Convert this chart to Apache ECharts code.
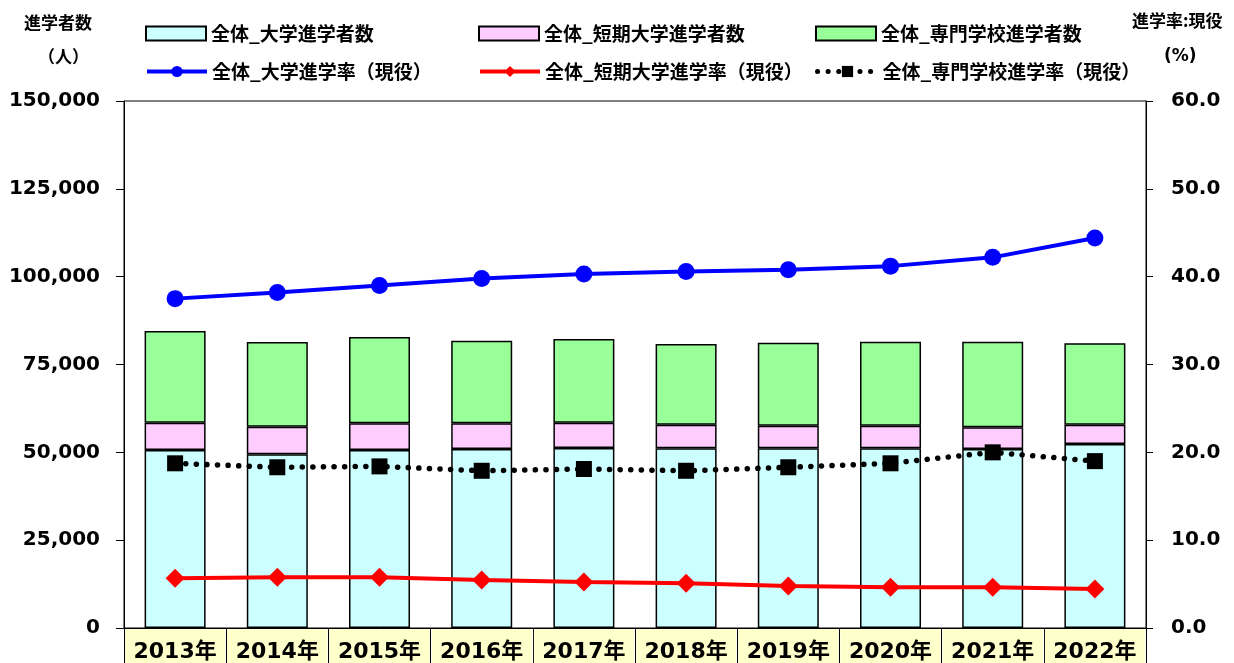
<!DOCTYPE html>
<html><head><meta charset="utf-8">
<script src="https://cdn.jsdelivr.net/npm/echarts@6/dist/echarts.min.js"></script>
<style>html,body{margin:0;padding:0;background:#fff}#c{width:1234px;height:663px}</style>
</head><body><div id="c"></div>
<script>
const categories = ['2013年','2014年','2015年','2016年','2017年','2018年','2019年','2020年','2021年','2022年'];
const univStudents = [50670, 49440, 50670, 50950, 51240, 51150, 51150, 51150, 50950, 52380];
const juniorStudents = [7770, 7860, 7600, 7320, 7200, 6720, 6440, 6440, 6180, 5490];
const vocStudents = [26100, 24110, 24560, 23520, 23830, 22970, 23630, 23910, 24370, 23170];
const univRate = [37.5, 38.2, 39.0, 39.8, 40.3, 40.6, 40.8, 41.2, 42.2, 44.4];
const juniorRate = [5.66, 5.77, 5.77, 5.47, 5.24, 5.09, 4.78, 4.63, 4.63, 4.44];
const vocRate = [18.75, 18.3, 18.4, 17.9, 18.1, 17.9, 18.3, 18.75, 20.0, 19.0];
const leftTicks = [0, 25000, 50000, 75000, 100000, 125000, 150000];
const rightTicks = [0, 10, 20, 30, 40, 50, 60];

const names = ['全体_大学進学者数','全体_短期大学進学者数','全体_専門学校進学者数','全体_大学進学率（現役）','全体_短期大学進学率（現役）','全体_専門学校進学率（現役）'];
const JP = '"Noto Sans CJK JP", sans-serif';
const NUM = '"DejaVu Sans", "Noto Sans CJK JP", sans-serif';
const legendPos = [[145,24],[478,24],[815,24],[145,62],[478,62],[815,62]];
const legendLineW = [0, 0, 0, 4, 4, 5];

const chart = echarts.init(document.getElementById('c'));
chart.setOption({
  animation: false,
  grid: {left: 124, right: 88, top: 101, bottom: 35, show: true, borderColor: '#000', borderWidth: 1,
    backgroundColor: 'transparent', containLabel: false, outerBoundsMode: 'none'},
  legend: names.map((n, i) => {
    const o = {
      data: [n], left: legendPos[i][0], top: legendPos[i][1], itemWidth: 60, itemHeight: 14, itemGap: 0, padding: 0,
      textStyle: {fontFamily: JP, fontSize: 19, fontWeight: 'bold', color: '#000'}
    };
    if (i < 3) o.icon = 'rect';
    else o.lineStyle = {width: legendLineW[i]};
    return o;
  }),
  graphic: [
    {type: 'text', left: 24, top: 14, style: {text: '進学者数', font: 'bold 17px ' + JP, fill: '#000'}},
    {type: 'text', left: 38, top: 48, style: {text: '（人）', font: 'bold 17px ' + JP, fill: '#000'}},
    {type: 'text', left: 1132, top: 12, style: {text: '進学率:現役', font: 'bold 17px ' + JP, fill: '#000'}},
    {type: 'text', left: 1164, top: 48, style: {text: '(%)', font: 'bold 17px ' + NUM, fill: '#000'}}
  ],
  xAxis: {
    type: 'category', data: categories, boundaryGap: true,
    axisLine: {lineStyle: {color: '#000', width: 1}},
    axisTick: {show: true, length: 40, lineStyle: {color: '#000', width: 1}},
    axisLabel: {
      margin: 1, interval: 0, color: '#000', fontFamily: NUM, fontWeight: 'bold', fontSize: 22,
      backgroundColor: '#ffffcc', width: 100, lineHeight: 46, height: 46, align: 'center'
    }
  },
  yAxis: [
    {
      type: 'value', min: 0, max: 150000, interval: 25000, position: 'left',
      splitLine: {show: false},
      axisLine: {show: true, lineStyle: {color: '#000', width: 1}},
      axisTick: {show: true, length: 8, lineStyle: {color: '#000'}},
      axisLabel: {margin: 24, color: '#000', fontFamily: NUM, fontWeight: 'bold', fontSize: 20,
        formatter: v => leftTicks.includes(v) ? v.toLocaleString('en-US') : ''}
    },
    {
      type: 'value', min: 0, max: 60, interval: 10, position: 'right',
      splitLine: {show: false},
      axisLine: {show: true, lineStyle: {color: '#000', width: 1}},
      axisTick: {show: true, length: 7, lineStyle: {color: '#000'}},
      axisLabel: {margin: 25, color: '#000', fontFamily: NUM, fontWeight: 'bold', fontSize: 20,
        formatter: v => rightTicks.includes(v) ? v.toFixed(1) : ''}
    }
  ],
  series: [
    {name: names[0], type: 'bar', stack: 's', data: univStudents, barWidth: 61,
      itemStyle: {color: '#ccffff', borderColor: '#000', borderWidth: 1.5}},
    {name: names[1], type: 'bar', stack: 's', data: juniorStudents, barWidth: 61,
      itemStyle: {color: '#ffccff', borderColor: '#000', borderWidth: 1.5}},
    {name: names[2], type: 'bar', stack: 's', data: vocStudents, barWidth: 61,
      itemStyle: {color: '#99ff99', borderColor: '#000', borderWidth: 1.5}},
    {name: names[3], type: 'line', yAxisIndex: 1, data: univRate, symbol: 'circle', symbolSize: 17,
      lineStyle: {color: '#0000ff', width: 4}, itemStyle: {color: '#0000ff'}},
    {name: names[4], type: 'line', yAxisIndex: 1, data: juniorRate, symbol: 'diamond', symbolSize: 19,
      lineStyle: {color: '#ff0000', width: 4}, itemStyle: {color: '#ff0000'}},
    {name: names[5], type: 'line', yAxisIndex: 1, data: vocRate, symbol: 'rect', symbolSize: 16,
      lineStyle: {color: '#000', width: 5.5, type: [0.1, 10.5], cap: 'round'}, itemStyle: {color: '#000'}}
  ]
});
</script></body></html>
